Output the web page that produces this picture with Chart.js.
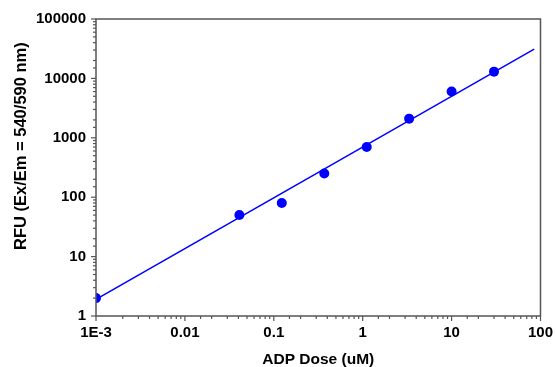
<!DOCTYPE html>
<html>
<head>
<meta charset="utf-8">
<script src="https://cdn.jsdelivr.net/npm/chart.js@4/dist/chart.umd.min.js"></script>
<style>
  html, body { margin: 0; padding: 0; background: #ffffff; }
  #wrap { width: 556px; height: 367px; position: relative; }
</style>
</head>
<body>
<div id="wrap"><canvas id="c" width="556" height="367"></canvas></div>
<script>
// ADP dose (uM) and measured RFU
const doseValues = [0.001, 0.041, 0.123, 0.37, 1.11, 3.33, 10, 30];
const rfuValues  = [2, 50, 80, 250, 700, 2100, 6000, 13000];
// Fitted line end points
const fitDose = [0.001, 85];
const fitRfu  = [1.9, 31000];
// Tick labels
const xTickValues = [0.001, 0.01, 0.1, 1, 10, 100];
const xTickLabels = ['1E-3', '0.01', '0.1', '1', '10', '100'];
const yTickValues = [1, 10, 100, 1000, 10000, 100000];
const yTickLabels = ['1', '10', '100', '1000', '10000', '100000'];
const xTitle = 'ADP Dose (uM)';
const yTitle = 'RFU (Ex/Em = 540/590 nm)';

const BLUE = '#0000ff';
const AXIS = '#555555';
const FAMILY = 'Liberation Sans, Arial, sans-serif';
const FONT = { family: FAMILY, size: 15, weight: 'bold' };

function labelFor(values, labels) {
  return function (v) {
    for (let i = 0; i < values.length; i++) {
      if (Math.abs(Math.log10(v) - Math.log10(values[i])) < 1e-6) return labels[i];
    }
    return '';
  };
}
function isDecade(v) {
  const l = Math.log10(v);
  return Math.abs(l - Math.round(l)) < 1e-6;
}

const frame = {
  id: 'frame',
  afterDatasetsDraw(chart) {
    const { ctx, chartArea: a } = chart;
    ctx.save();
    ctx.strokeStyle = AXIS;
    ctx.lineWidth = 1.5;
    ctx.strokeRect(a.left, a.top, a.right - a.left, a.bottom - a.top);
    // tick marks
    ctx.lineWidth = 1.2;
    const xs = chart.scales.x, ys = chart.scales.y;
    xs.ticks.forEach(t => {
      const px = xs.getPixelForValue(t.value);
      const len = isDecade(t.value) ? 5 : 3;
      ctx.beginPath();
      ctx.moveTo(px, a.bottom);
      ctx.lineTo(px, a.bottom + len);
      ctx.stroke();
    });
    ys.ticks.forEach(t => {
      const py = ys.getPixelForValue(t.value);
      const len = isDecade(t.value) ? 5 : 3;
      ctx.beginPath();
      ctx.moveTo(a.left, py);
      ctx.lineTo(a.left - len, py);
      ctx.stroke();
    });
    // y axis title (placed slightly above the plot centre, as in the source)
    ctx.fillStyle = '#000';
    ctx.font = 'bold 16.5px ' + FAMILY;
    ctx.textAlign = 'center';
    ctx.textBaseline = 'middle';
    ctx.translate(21, a.top + (a.bottom - a.top) * 0.428);
    ctx.rotate(-Math.PI / 2);
    ctx.fillText(yTitle, 0, 0);
    ctx.restore();
  }
};

new Chart(document.getElementById('c'), {
  type: 'scatter',
  data: {
    datasets: [
      {
        label: 'Fit',
        data: fitDose.map((x, i) => ({ x: x, y: fitRfu[i] })),
        showLine: true,
        borderColor: BLUE,
        borderWidth: 1.5,
        pointRadius: 0,
        fill: false
      },
      {
        label: 'Data',
        data: doseValues.map((x, i) => ({ x: x, y: rfuValues[i] })),
        backgroundColor: BLUE,
        borderColor: BLUE,
        pointRadius: 5,
        pointBorderWidth: 0
      }
    ]
  },
  options: {
    responsive: false,
    animation: false,
    devicePixelRatio: 1,
    layout: { padding: { left: 0, right: 15, top: 19, bottom: 0 } },
    plugins: { legend: { display: false }, tooltip: { enabled: false } },
    scales: {
      x: {
        type: 'logarithmic',
        min: 0.001,
        max: 100,
        border: { display: false },
        grid: { display: true, drawOnChartArea: false, drawTicks: true, tickLength: 5, color: 'rgba(0,0,0,0)' },
        ticks: {
          autoSkip: false, maxRotation: 0, padding: 3,
          color: '#000', font: FONT,
          callback: labelFor(xTickValues, xTickLabels)
        },
        title: { display: true, text: xTitle, color: '#000', font: { family: FAMILY, size: 15.5, weight: 'bold', lineHeight: 1.0 }, padding: { top: 4, bottom: 0 } },
        afterFit(s) { s.height = 51; }
      },
      y: {
        type: 'logarithmic',
        min: 1,
        max: 100000,
        border: { display: false },
        grid: { display: true, drawOnChartArea: false, drawTicks: true, tickLength: 5, color: 'rgba(0,0,0,0)' },
        ticks: {
          autoSkip: false, padding: 5,
          color: '#000', font: FONT,
          callback: labelFor(yTickValues, yTickLabels)
        },
        title: { display: false, text: yTitle },
        afterFit(s) { s.width = 96; }
      }
    }
  },
  plugins: [frame]
});
</script>
</body>
</html>
